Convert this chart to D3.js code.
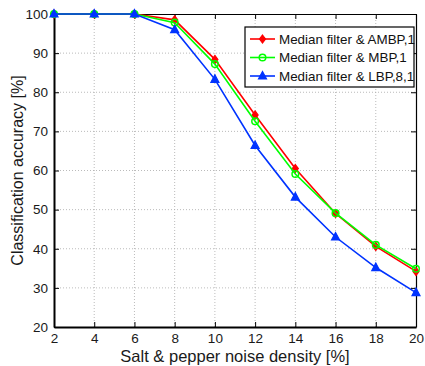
<!DOCTYPE html>
<html><head><meta charset="utf-8">
<script src="https://cdn.jsdelivr.net/npm/d3@7"></script>
<style>body{margin:0;background:#fff;} svg{display:block;font-family:"Liberation Sans",Arial,sans-serif;}</style>
</head><body>
<script>
const noise = [2, 4, 6, 8, 10, 12, 14, 16, 18, 20];
const ambp = [100, 100, 100, 98.5, 88.4, 74.2, 60.5, 49.0, 40.6, 34.2];
const mbp  = [100, 100, 100, 97.8, 87.2, 72.6, 59.1, 49.1, 41.0, 34.9];
const lbp  = [100, 100, 100, 96.0, 83.3, 66.4, 53.2, 43.0, 35.2, 28.8];
const seriesNames = ["Median filter & AMBP,1", "Median filter & MBP,1", "Median filter & LBP,8,1"];
const seriesColors = ["#ff0000", "#00ff00", "#0033ff"];
const seriesMarkers = ["diamond", "circle", "triangle"];
const xTicks = [2, 4, 6, 8, 10, 12, 14, 16, 18, 20];
const yTicks = [20, 30, 40, 50, 60, 70, 80, 90, 100];

const W = 425, H = 366;
const L = 54, R = 416, T = 14, B = 327;
const svg = d3.select("body").append("svg").attr("width", W).attr("height", H);
const x = d3.scaleLinear().domain([2, 20]).range([L, R]);
const y = d3.scaleLinear().domain([20, 100]).range([B, T]);

// grid
const g = svg.append("g");
g.selectAll("line.vx").data(xTicks.slice(1, -1)).enter().append("line")
  .attr("x1", d => x(d)).attr("x2", d => x(d)).attr("y1", T).attr("y2", B)
  .attr("stroke", "#aaa").attr("stroke-width", 0.8).attr("stroke-dasharray", "1,2");
g.selectAll("line.hy").data(yTicks.slice(1, -1)).enter().append("line")
  .attr("y1", d => y(d)).attr("y2", d => y(d)).attr("x1", L).attr("x2", R)
  .attr("stroke", "#aaa").attr("stroke-width", 0.8).attr("stroke-dasharray", "1,2");

// axes
const xAxis = d3.axisBottom(x).tickValues(xTicks).tickSize(-5).tickPadding(6).tickSizeOuter(0);
const yAxis = d3.axisLeft(y).tickValues(yTicks).tickSize(-5).tickPadding(6).tickSizeOuter(0);
const gx = svg.append("g").attr("transform", `translate(0,${B})`).call(xAxis);
const gy = svg.append("g").attr("transform", `translate(${L},0)`).call(yAxis);
const gx2 = svg.append("g").attr("transform", `translate(0,${T})`).call(d3.axisTop(x).tickValues(xTicks).tickSize(-5).tickFormat("").tickSizeOuter(0));
const gy2 = svg.append("g").attr("transform", `translate(${R},0)`).call(d3.axisRight(y).tickValues(yTicks).tickSize(-5).tickFormat("").tickSizeOuter(0));
[gx, gy, gx2, gy2].forEach(a => {
  a.select(".domain").attr("stroke", "#000").attr("stroke-width", 1.2);
  a.selectAll(".tick line").attr("stroke", "#000");
  a.selectAll(".tick text").attr("font-size", 13.5).attr("fill", "#1a1a1a").attr("font-family", "Liberation Sans, Arial, sans-serif");
});
gx.select(".domain").attr("stroke-width", 2);
gy.select(".domain").attr("stroke-width", 2);

// labels
svg.append("text").attr("x", (L + R) / 2).attr("y", 362).attr("text-anchor", "middle")
  .attr("font-size", 16.5).attr("fill", "#1a1a1a").text("Salt & pepper noise density [%]");
svg.append("text").attr("transform", `translate(23,${(T + B) / 2}) rotate(-90)`).attr("text-anchor", "middle")
  .attr("font-size", 16).attr("fill", "#1a1a1a").text("Classification accuracy [%]");

const data = [ambp, mbp, lbp];
function marker(sel, type, color) {
  if (type === "diamond") {
    sel.append("path").attr("d", "M0,-4L3,0L0,4L-3,0Z").attr("fill", color).attr("stroke", color).attr("stroke-width", 1.2);
  } else if (type === "circle") {
    sel.append("circle").attr("r", 3.3).attr("fill", "none").attr("stroke", color).attr("stroke-width", 1.5);
  } else {
    sel.append("path").attr("d", "M0,-4.5L4,3L-4,3Z").attr("fill", color).attr("stroke", color).attr("stroke-width", 1.2);
  }
}
const line = d3.line().x((d, i) => x(noise[i])).y(d => y(d));
data.forEach((vals, s) => {
  svg.append("path").datum(vals).attr("d", line).attr("fill", "none")
    .attr("stroke", seriesColors[s]).attr("stroke-width", 1.6);
  vals.forEach((v, i) => {
    const m = svg.append("g").attr("transform", `translate(${x(noise[i])},${y(v)})`);
    marker(m, seriesMarkers[s], seriesColors[s]);
  });
});

// legend
const lg = svg.append("g");
lg.append("rect").attr("x", 245).attr("y", 27).attr("width", 169).attr("height", 60)
  .attr("fill", "#fff").attr("stroke", "#000").attr("stroke-width", 1.2);
seriesNames.forEach((name, s) => {
  const yy = 39 + s * 18.5;
  lg.append("line").attr("x1", 250).attr("x2", 275).attr("y1", yy).attr("y2", yy)
    .attr("stroke", seriesColors[s]).attr("stroke-width", 1.6);
  const m = lg.append("g").attr("transform", `translate(262.5,${yy})`);
  marker(m, seriesMarkers[s], seriesColors[s]);
  lg.append("text").attr("x", 279).attr("y", yy + 4.7).attr("font-size", 13.4).attr("fill", "#111").text(name);
});
</script>
</body></html>
